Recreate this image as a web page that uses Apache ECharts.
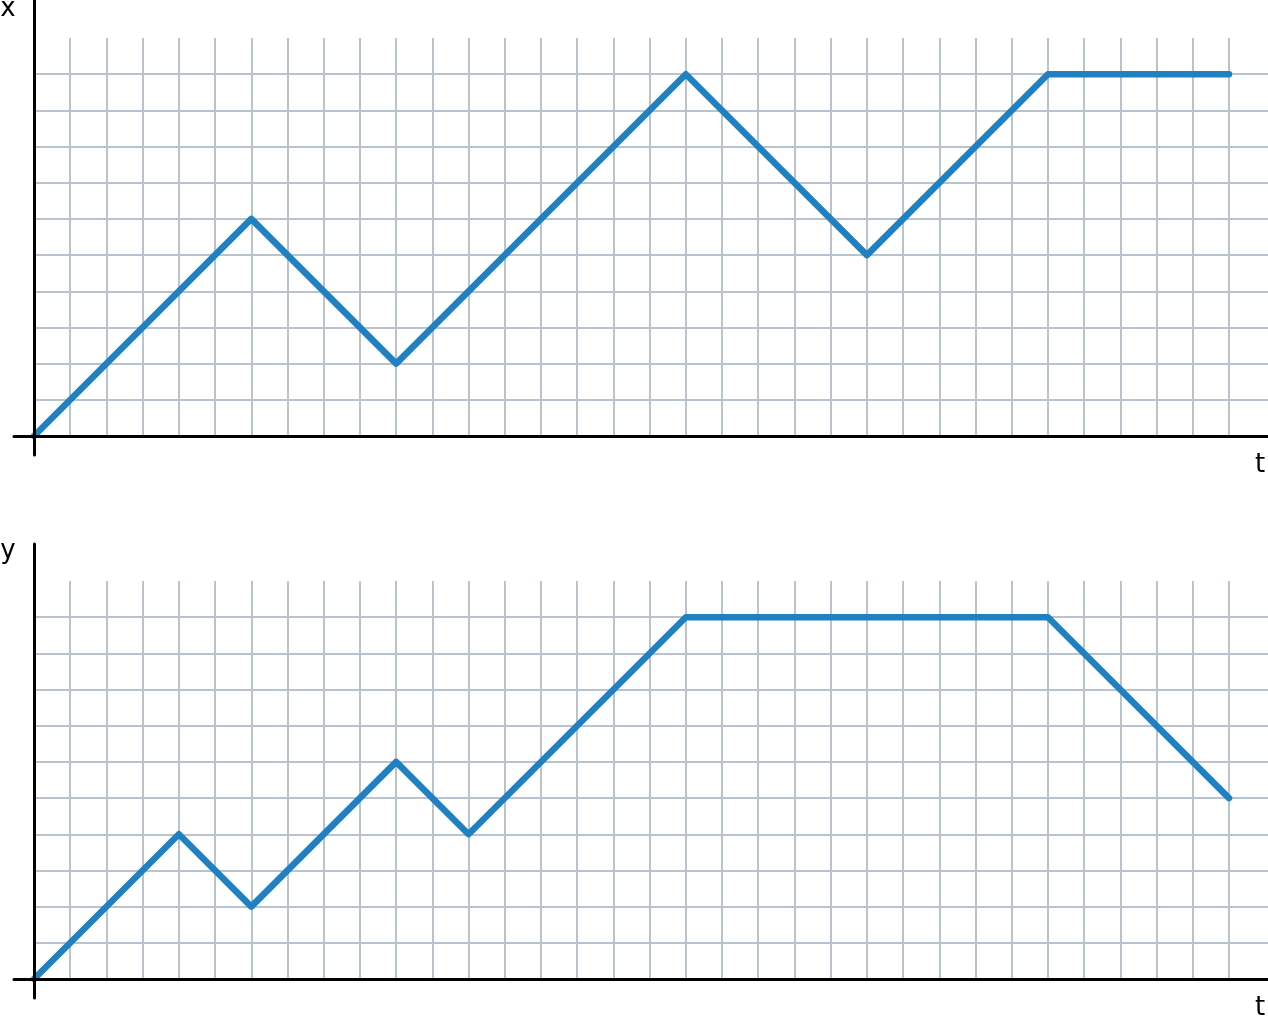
<!DOCTYPE html>
<html>
<head>
<meta charset="utf-8">
<script src="https://cdn.jsdelivr.net/npm/echarts@6/dist/echarts.min.js"></script>
<style>html,body{margin:0;padding:0;background:#fff}#c{width:1268px;height:1016px}</style>
</head>
<body>
<div id="c"></div>
<script>
// Top panel: x(t)
const tTop = [0, 6, 10, 18, 23, 28, 33];
const xVals = [0, 6, 2, 10, 5, 10, 10];
// Bottom panel: y(t)
const tBot = [0, 4, 6, 10, 12, 18, 28, 33];
const yVals = [0, 4, 2, 6, 4, 10, 10, 5];
// axis names
const axisNames = ['x', 'y'];
const timeName = 't';

const tMax = 33, vMax = 11;
const gridColor = '#b9c3cd';
const lineColor = '#1f80c2';

const chart = echarts.init(document.getElementById('c'), null, {renderer: 'canvas'});

const grids = [], xAxes = [], yAxes = [], series = [];
function hidden(min, max) {
  return {type: 'value', min: min, max: max, show: false};
}
function panel(offset, tArr, vArr) {
  const gi = grids.length;
  // data grid + vertical grid lines
  grids.push({left: 34, top: 38 + offset, width: 1195, height: 398});
  xAxes.push({type: 'value', gridIndex: gi, min: 0, max: tMax, interval: 1,
    axisLine: {show: false}, axisTick: {show: false}, axisLabel: {show: false},
    splitLine: {show: true, showMinLine: false, lineStyle: {color: gridColor, width: 2}}});
  yAxes.push(Object.assign(hidden(0, vMax), {gridIndex: gi}));
  series.push({type: 'line', xAxisIndex: gi, yAxisIndex: gi, showSymbol: false, z: 5,
    data: tArr.map((t, i) => [t, vArr[i]]),
    lineStyle: {color: lineColor, width: 6.5, cap: 'round', join: 'round'}});
  // horizontal grid lines
  const hi = grids.length;
  grids.push({left: 34, top: 38 + offset, width: 1234, height: 398});
  xAxes.push(Object.assign(hidden(0, 1), {gridIndex: hi}));
  yAxes.push({type: 'value', gridIndex: hi, min: 0, max: vMax, interval: 1,
    axisLine: {show: false}, axisTick: {show: false}, axisLabel: {show: false},
    splitLine: {show: true, showMinLine: false, showMaxLine: false, lineStyle: {color: gridColor, width: 2}}});
  // horizontal axis line
  const xi = grids.length;
  grids.push({left: 14, top: 38 + offset, width: 1254, height: 398});
  xAxes.push({type: 'value', gridIndex: xi, min: 0, max: 1, position: 'bottom', z: 10,
    axisLine: {show: true, onZero: false, lineStyle: {color: '#000', width: 3}},
    axisTick: {show: false}, axisLabel: {show: false}, splitLine: {show: false}});
  yAxes.push(Object.assign(hidden(0, 1), {gridIndex: xi}));
  // vertical axis line
  const yi = grids.length;
  grids.push({left: 34, top: offset === 0 ? 0 : 544, width: 1234, height: offset === 0 ? 455 : 454});
  xAxes.push(Object.assign(hidden(0, 1), {gridIndex: yi}));
  yAxes.push({type: 'value', gridIndex: yi, min: 0, max: 1, position: 'left', z: 10,
    axisLine: {show: true, onZero: false, lineStyle: {color: '#000', width: 3}},
    axisTick: {show: false}, axisLabel: {show: false}, splitLine: {show: false}});
}
panel(0, tTop, xVals);
panel(543, tBot, yVals);

const font = '26px "DejaVu Sans"';
function label(text, x, y, align) {
  return {type: 'text', x: x, y: y, z: 20,
    style: {text: text, font: font, fill: '#000', align: align, verticalAlign: 'middle'}};
}

chart.setOption({
  animation: false,
  backgroundColor: '#fff',
  grid: grids,
  xAxis: xAxes,
  yAxis: yAxes,
  series: series,
  graphic: [
    label(axisNames[0], 8, 9, 'center'),
    label(timeName, 1260, 465, 'center'),
    label(axisNames[1], 8, 551, 'center'),
    label(timeName, 1260, 1008, 'center')
  ]
});
</script>
</body>
</html>
